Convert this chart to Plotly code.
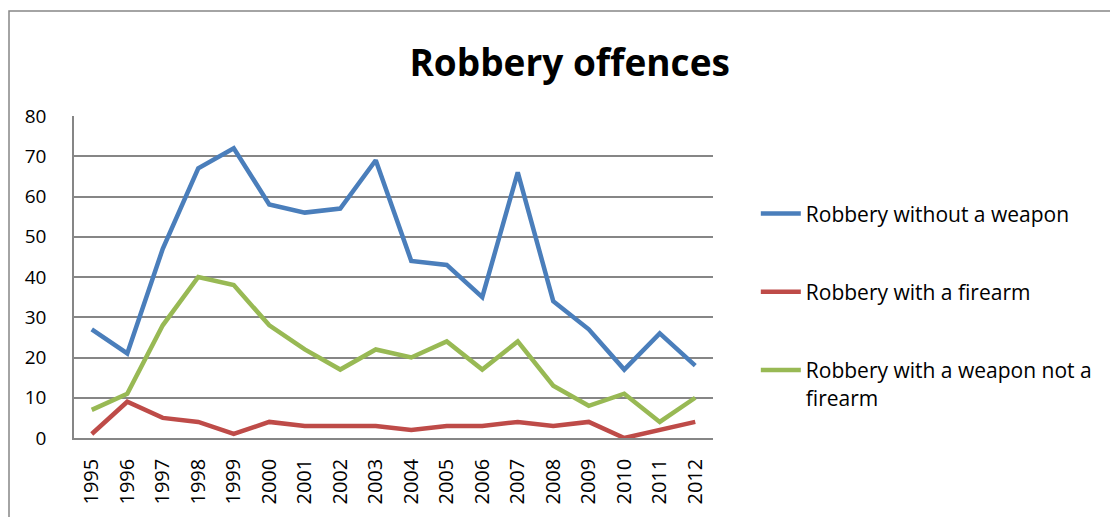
import plotly.graph_objects as go

years = [str(y) for y in range(1995, 2013)]
without_weapon = [27, 21, 47, 67, 72, 58, 56, 57, 69, 44, 43, 35, 66, 34, 27, 17, 26, 18]
with_firearm = [1, 9, 5, 4, 1, 4, 3, 3, 3, 2, 3, 3, 4, 3, 4, 0, 2, 4]
with_weapon_not_firearm = [7, 11, 28, 40, 38, 28, 22, 17, 22, 20, 24, 17, 24, 13, 8, 11, 4, 10]

series_names = ["Robbery without a weapon", "Robbery with a firearm",
                "Robbery with a weapon not a<br>firearm"]
series_values = [without_weapon, with_firearm, with_weapon_not_firearm]
colors = ["#4A7EBB", "#BE4B48", "#98B954"]

FONT = "Open Sans"

fig = go.Figure()
for i, (name, vals, col) in enumerate(zip(series_names, series_values, colors)):
    fig.add_trace(go.Scatter(
        x=years, y=vals, name=name, mode="lines",
        line=dict(color=col, width=4.5),
        legendgroup=f"g{i}",
    ))

W, H = 1110, 509
L, R, T, B = 66, 405, 108, 79
pw, ph = W - L - R, H - T - B

fig.update_layout(
    width=W, height=H,
    margin=dict(l=L, r=R, t=T, b=B),
    paper_bgcolor="white", plot_bgcolor="white",
    font=dict(family=FONT, color="black", size=19),
    title=dict(text="<b>Robbery offences</b>", x=0.506, xanchor="center",
               y=0.892, yanchor="middle", font=dict(size=37, family=FONT)),
    showlegend=True,
    legend=dict(x=1.067, xanchor="left", y=0.76, yanchor="top",
                traceorder="grouped", tracegroupgap=48, valign="top",
                font=dict(size=21, family=FONT), itemwidth=40,
                bgcolor="rgba(0,0,0,0)"),
    xaxis=dict(type="category", range=[-0.5, 17.5], showgrid=False, showline=True,
               linecolor="#868686", linewidth=1.5, mirror=False, tickangle=-90, ticks="",
               ticklabelstandoff=11, tickfont=dict(size=20)),
    yaxis=dict(range=[0, 80], dtick=10, showgrid=True, gridcolor="#868686", gridwidth=1.5,
               showline=True, linecolor="#868686", linewidth=1.5, ticks="",
               ticklabelstandoff=22, zeroline=False, tickfont=dict(size=19)),
)

# outer chart border
fig.add_shape(type="rect", xref="paper", yref="paper",
              x0=(1 - L) / pw, x1=(W + 20 - L) / pw,
              y0=(H - B - (H + 20)) / ph, y1=(H - B - 3) / ph,
              line=dict(color="#868686", width=1.5), fillcolor="rgba(0,0,0,0)", layer="below")

fig.write_html("out.html")
